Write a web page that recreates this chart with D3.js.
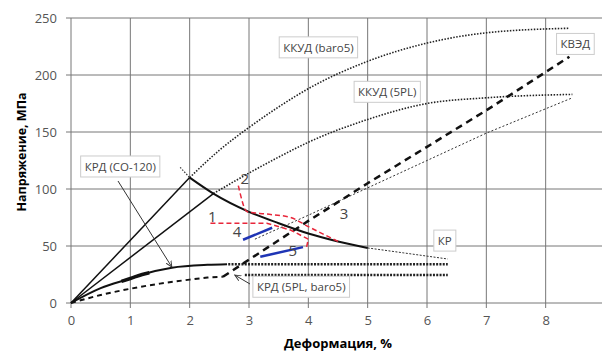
<!DOCTYPE html>
<html>
<head>
<meta charset="utf-8">
<script src="https://cdn.jsdelivr.net/npm/d3@7"></script>
<style>
  body { margin: 0; background: #fff; }
  svg text { font-family: "Open Sans", "Liberation Sans", sans-serif; }
</style>
</head>
<body>
<svg width="602" height="353"></svg>
<script>
// strain, % / stress, MPa
let xTicks = [0, 1, 2, 3, 4, 5, 6, 7, 8, 9];
let xTickLabels = [0, 1, 2, 3, 4, 5, 6, 7, 8];
let yTicks = [0, 50, 100, 150, 200, 250];

let krdCo120 = [[0, 0], [0.5, 13], [1.0, 21.5], [1.2, 25], [1.7, 31], [2.3, 33.5], [2.63, 34]];
let krdCo120Bold = [[0.85, 19], [1.0, 21.5], [1.2, 25], [1.32, 26.5]];
let krd5pl = [[0, 0], [0.5, 7], [1.0, 12.5], [1.5, 17], [2.0, 20.5], [2.3, 22.3], [2.56, 23]];
let flatHigh = [[2.65, 34], [6.35, 34]];
let flatLow = [[2.93, 24.6], [6.35, 24.6]];
let steepLine = [[0, 0], [2.0, 110]];
let lowerLine = [[0, 0], [2.4, 96]];
let kr = [[2.0, 110], [2.4, 96], [3.0, 80], [3.5, 70], [4.0, 61], [4.5, 54], [5.0, 48.3]];
let krTail = [[5.0, 48.3], [5.6, 44], [6.35, 38.6]];
let krHead = [[1.84, 119], [2.0, 110]];
let kkudBaro5 = [[2.0, 110], [2.5, 134], [3.0, 154], [3.5, 172], [4.0, 188], [5.0, 212], [6.0, 228], [7.0, 237], [8.4, 241]];
let kkud5pl = [[2.4, 96], [3.0, 114], [3.5, 128], [4.0, 141], [5.0, 161], [6.0, 175], [7.0, 180], [8.45, 183]];
let kved = [[2.56, 23], [3.0, 38], [3.5, 55], [4.0, 72], [5.0, 105], [6.0, 137], [7.0, 169], [8.4, 216]];
let thinDotted = [[3.1, 56], [4.0, 77], [5.0, 101], [6.0, 125], [7.0, 149], [8.45, 180]];
let red1 = [[2.35, 70], [3.0, 70], [3.3, 70], [3.7, 64], [4.0, 56], [3.97, 49]];
let red23 = [[2.82, 103], [2.97, 80], [3.3, 78], [3.7, 75], [4.0, 67], [4.5, 54]];
let blue4 = [[2.9, 55.5], [3.39, 66]];
let blue5 = [[3.19, 40.5], [3.91, 49]];

let boxLabels = [
  { t: "ККУД (baro5)", x: 4.17, y: 223 },
  { t: "ККУД (5PL)", x: 5.33, y: 184 },
  { t: "КВЭД", x: 8.5, y: 226 },
  { t: "КР", x: 6.3, y: 53.5 },
  { t: "КРД (СО-120)", x: 0.83, y: 118.5 },
  { t: "КРД (5PL, baro5)", x: 3.88, y: 13 },
];
let numLabels = [
  { t: "1", x: 2.38, y: 74.5 },
  { t: "2", x: 2.93, y: 108 },
  { t: "3", x: 4.6, y: 77 },
  { t: "4", x: 2.8, y: 61 },
  { t: "5", x: 3.74, y: 45 },
];

let svg = d3.select("svg");
let x = d3.scaleLinear().domain([0, 9]).range([71, 605]);
let y = d3.scaleLinear().domain([0, 250]).range([303, 18]);

let defs = svg.append("defs");
defs.append("marker").attr("id", "arr")
  .attr("viewBox", "0 0 10 10").attr("refX", 9).attr("refY", 5)
  .attr("markerWidth", 7).attr("markerHeight", 7).attr("orient", "auto")
  .append("path").attr("d", "M0,1 L9,5 L0,9").attr("fill", "none")
  .attr("stroke", "#333").attr("stroke-width", 1.3);

// grid
let grid = svg.append("g");
grid.selectAll(".vx").data(xTicks).join("line")
  .attr("x1", d => x(d)).attr("x2", d => x(d))
  .attr("y1", y(250)).attr("y2", y(0) + 5)
  .attr("stroke", "#777").attr("stroke-width", 1);
grid.selectAll(".hy").data(yTicks).join("line")
  .attr("x1", x(0) - 5).attr("x2", 605)
  .attr("y1", d => y(d)).attr("y2", d => y(d))
  .attr("stroke", "#777").attr("stroke-width", 1);

let xAxis = svg.append("g").attr("transform", `translate(0,${y(0)})`)
  .call(d3.axisBottom(x).tickValues(xTickLabels).tickSize(0).tickPadding(13));
let yAxis = svg.append("g").attr("transform", `translate(${x(0)},0)`)
  .call(d3.axisLeft(y).tickValues(yTicks).tickSize(0).tickPadding(14));
[xAxis, yAxis].forEach(a => {
  a.select(".domain").remove();
  a.selectAll("text").attr("font-size", 13).attr("fill", "#555");
});

svg.append("text").attr("x", 338).attr("y", 348).attr("text-anchor", "middle")
  .attr("font-size", 13).attr("font-weight", "bold").text("Деформация, %");
svg.append("text").attr("transform", "translate(26,152) rotate(-90)")
  .attr("text-anchor", "middle").attr("font-size", 12.5).attr("font-weight", "bold")
  .text("Напряжение, МПа");

let line = d3.line().x(d => x(d[0])).y(d => y(d[1])).curve(d3.curveMonotoneX);
let straight = d3.line().x(d => x(d[0])).y(d => y(d[1]));

function draw(data, color, width, dash, gen) {
  return svg.append("path").datum(data)
    .attr("d", gen || line).attr("fill", "none")
    .attr("stroke", color).attr("stroke-width", width)
    .attr("stroke-dasharray", dash || null);
}

// dotted curves
draw(kkudBaro5, "#222", 1.6, "1.5,1.5");
draw(kkud5pl, "#222", 1.6, "1.5,1.5");
draw(thinDotted, "#333", 1, "2,2", straight);
draw(krTail, "#333", 1, "2,1.5");
draw(krHead, "#333", 1.2, "1.5,1.5", straight);
draw(flatHigh, "#222", 2.5, "2,1.3", straight);
draw(flatLow, "#222", 2.5, "2,1.3", straight);

// solids
draw(steepLine, "#111", 1.5, null, straight);
draw(lowerLine, "#111", 1.5, null, straight);
draw(kr, "#111", 2, null);
draw(krdCo120, "#111", 2, null);
draw(krdCo120Bold, "#111", 3.5, null);
draw(krd5pl, "#111", 2, "5,4");
draw(kved, "#111", 2.5, "7,5", straight);

// red / blue
draw(red1, "#e8263a", 1.5, "5,3", straight);
draw(red23, "#e8263a", 1.5, "5,3");
draw(blue4, "#1f35b5", 2.5, null, straight);
draw(blue5, "#1f35b5", 2.5, null, straight);

// arrows
svg.append("line").attr("x1", 118).attr("y1", 181).attr("x2", x(1.7)).attr("y2", y(31.5))
  .attr("stroke", "#333").attr("stroke-width", 1).attr("marker-end", "url(#arr)");
svg.append("line").attr("x1", 250).attr("y1", 284).attr("x2", x(2.76)).attr("y2", y(24.5))
  .attr("stroke", "#333").attr("stroke-width", 1).attr("marker-end", "url(#arr)");

// number labels
svg.selectAll(".num").data(numLabels).join("text")
  .attr("x", d => x(d.x)).attr("y", d => y(d.y))
  .attr("text-anchor", "middle").attr("dominant-baseline", "middle")
  .attr("font-size", 15).attr("fill", "#444").text(d => d.t);

// boxed labels
boxLabels.forEach(d => {
  let g = svg.append("g");
  let t = g.append("text").attr("x", x(d.x)).attr("y", y(d.y))
    .attr("text-anchor", "middle").attr("dominant-baseline", "middle")
    .attr("font-size", 11.5).attr("fill", "#444").text(d.t);
  let b = t.node().getBBox();
  g.insert("rect", "text").attr("x", b.x - 4).attr("y", b.y - 3)
    .attr("width", b.width + 8).attr("height", b.height + 6)
    .attr("fill", "#fff").attr("stroke", "#ccc");
});
</script>
</body>
</html>
